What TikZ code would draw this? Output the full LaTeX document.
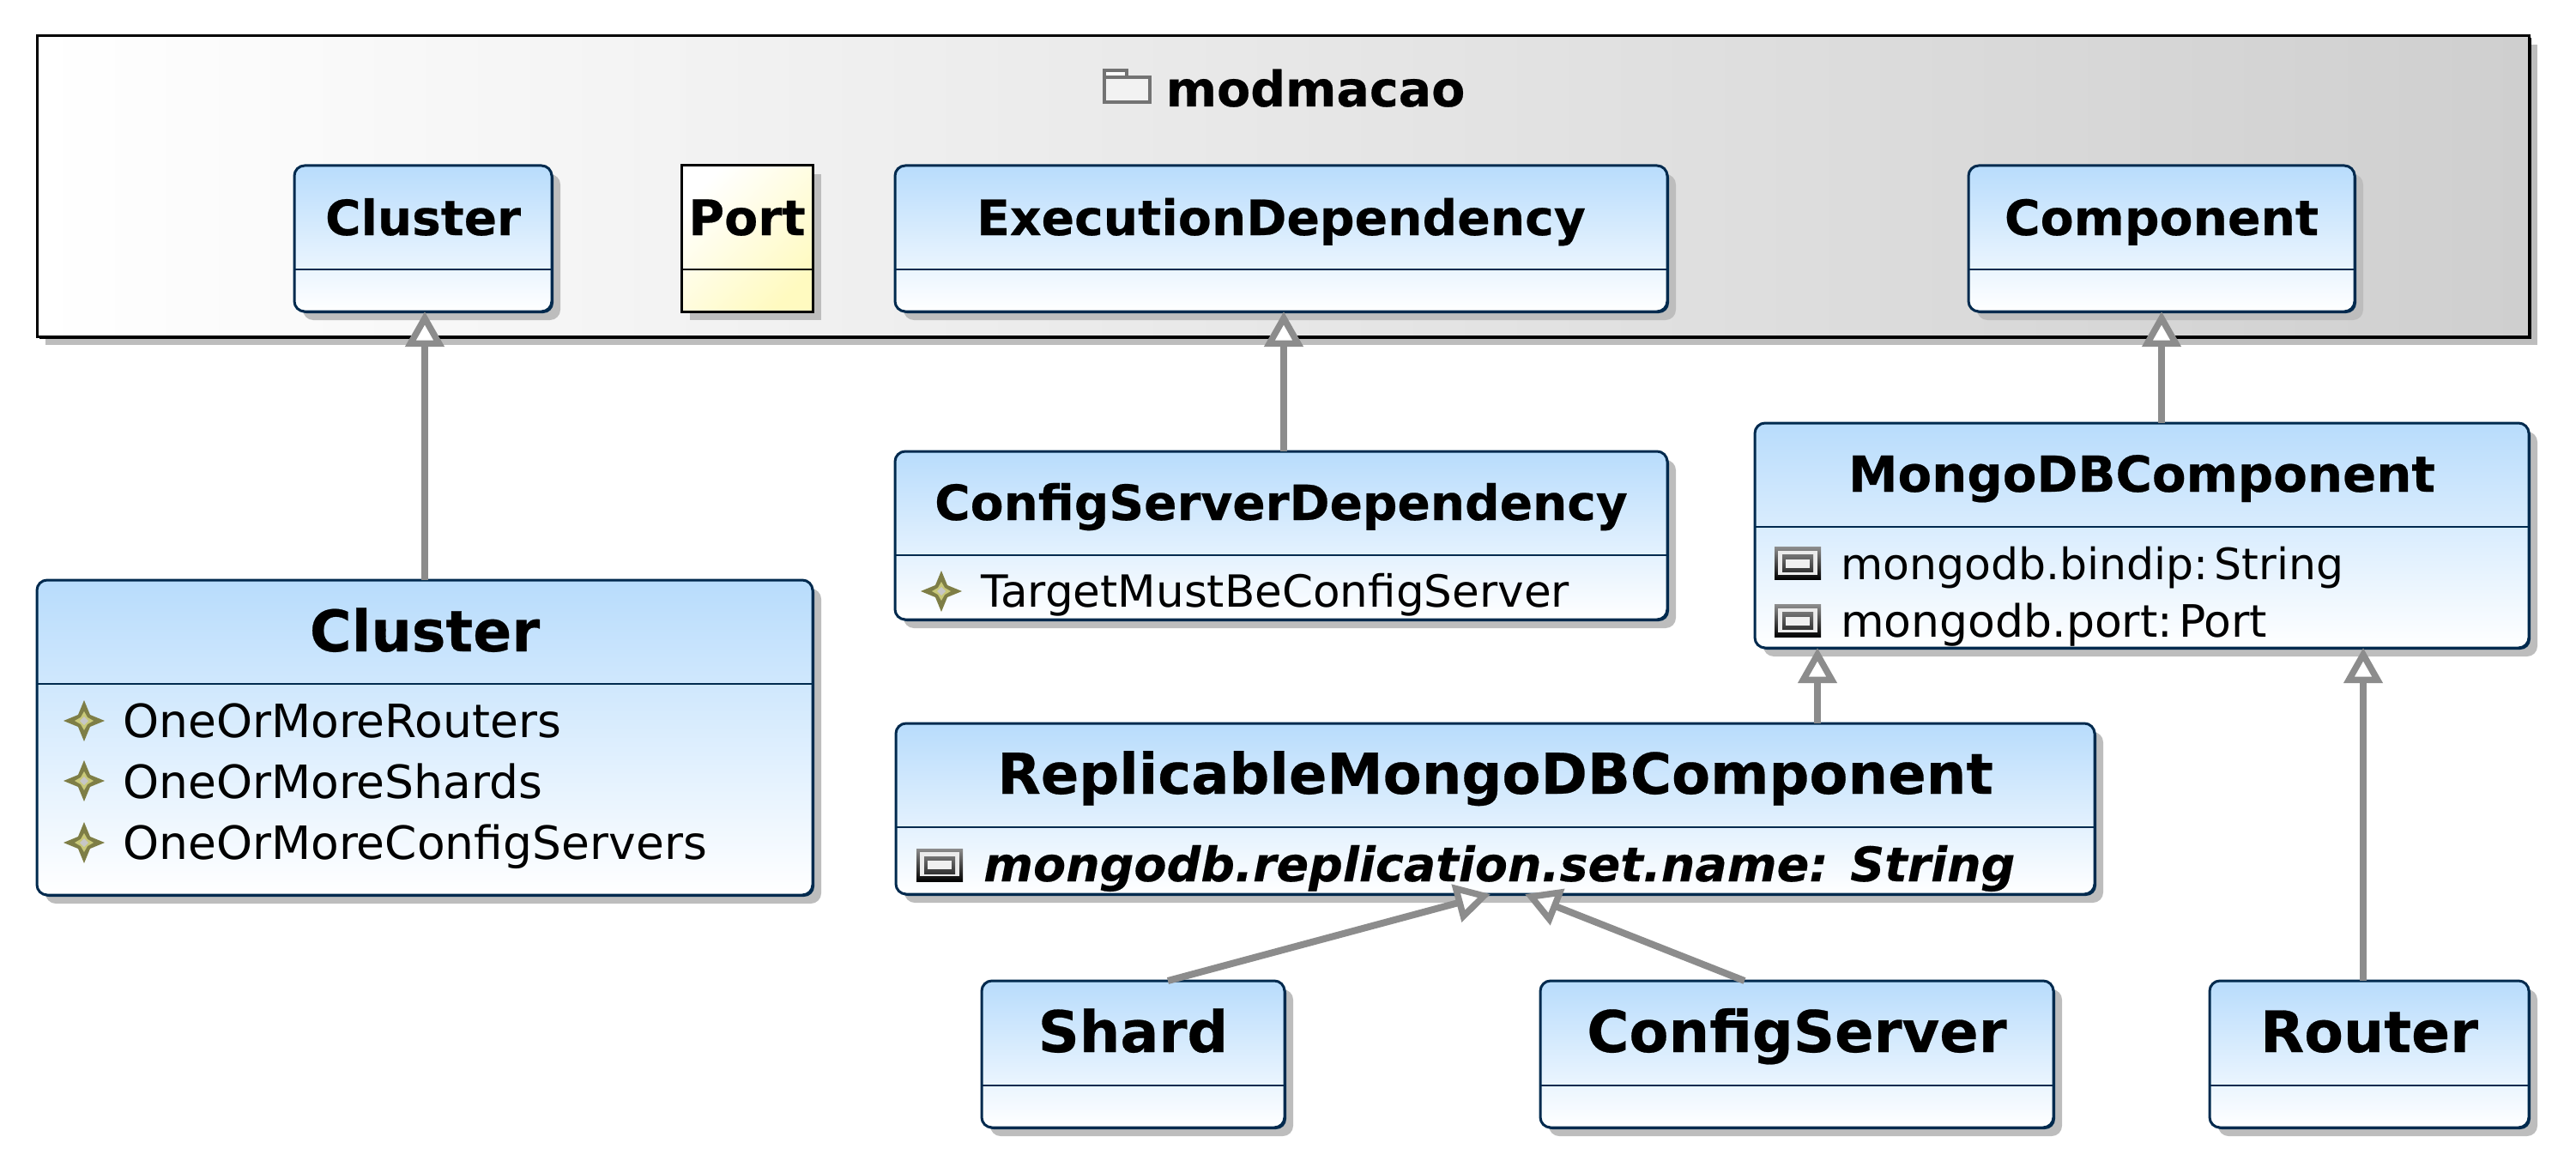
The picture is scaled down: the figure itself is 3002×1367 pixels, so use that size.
\documentclass[tikz,border=0pt]{standalone}
\usepackage{fontspec}
\setmainfont{DejaVu Sans}[BoldFeatures={FakeBold=0.4},BoldItalicFeatures={FakeBold=0.3}]
\usetikzlibrary{arrows.meta,shadows,calc}
\definecolor{navy}{HTML}{002A4E}
\definecolor{topblue}{HTML}{B8DCFC}
\definecolor{shadowgrey}{HTML}{BDBDBD}
\definecolor{linkgrey}{HTML}{8C8C8C}
\definecolor{portyellow}{HTML}{FFFAC0}
\definecolor{olive}{HTML}{7E7E46}
\definecolor{oliveyellow}{HTML}{C8C878}
\definecolor{pkgmid}{HTML}{ECECEC}
\definecolor{pkgend}{HTML}{CFCFCF}
\newcommand{\fs}[1]{\fontsize{#1}{#1}\selectfont}
\tikzset{
  x=1pt,y=-1pt,
  boxbase/.style={anchor=north west,inner sep=0pt,outer sep=0pt},
  classbox/.style={boxbase,draw=navy,line width=3pt,rounded corners=12pt,
    top color=topblue,bottom color=white,
    general shadow={shadow xshift=10pt,shadow yshift=-10pt,fill=shadowgrey,draw=none},
    general shadow={shadow xshift=2pt,shadow yshift=-2pt,fill=navy,draw=none}},
  portbox/.style={boxbase,draw=black,line width=3pt,
    top color=white,bottom color=portyellow,shading angle=45,
    general shadow={shadow xshift=10pt,shadow yshift=-10pt,fill=shadowgrey,draw=none},
    general shadow={shadow xshift=2pt,shadow yshift=-2pt,fill=black,draw=none}},
  pkgbox/.style={boxbase,draw=black,line width=3pt,
    left color=white,middle color=pkgmid,right color=pkgend,
    general shadow={shadow xshift=10pt,shadow yshift=-10pt,fill=shadowgrey,draw=none},
    general shadow={shadow xshift=2.5pt,shadow yshift=-2.5pt,fill=black,draw=none}},
  rule/.style={draw=navy,line width=2.5pt},
  blackrule/.style={draw=black,line width=2.5pt},
  titletext/.style={inner sep=0pt,anchor=base,text=black},
  itemtext/.style={inner sep=0pt,anchor=base west,text=black},
  gen/.style={draw=linkgrey,line width=8pt,
    -{Triangle[open,fill=white,length=41pt,width=44pt,line width=7.5pt]}},
  staricon/.pic={
    \fill[olive] (0,-24) -- (7,-7) -- (24,0) -- (7,7) -- (0,24) -- (-7,7) -- (-24,0) -- (-7,-7) -- cycle;
    \fill[oliveyellow] (0,-11) -- (4,-4) -- (11,0) -- (4,4) -- (0,11) -- (-4,4) -- (-11,0) -- (-4,-4) -- cycle;
    \fill[black!22] (0,-5) -- (5,0) -- (0,5) -- (-5,0) -- cycle;
  },
  attricon/.pic={
    \shade[top color=black!45,bottom color=black] (-27,-19) rectangle (27,19);
    \fill[white!92!black] (-23,-15) rectangle (23,13);
    \shade[top color=black!55,bottom color=black!80] (-18,-10) rectangle (18,10);
    \fill[black!6] (-14,-5) rectangle (14,5);
  },
}
\begin{document}
\begin{tikzpicture}
\useasboundingbox (0,0) rectangle (3002,1367);
% package
\node[pkgbox,minimum width=2904pt,minimum height=350pt] (pkg) at (43,42) {};
\draw[draw=black!55,line width=4pt,fill=white] (1287,90) -- (1287,82) -- (1313,82) -- (1313,90) -- cycle;
\draw[draw=black!55,line width=4pt,fill=black!5] (1287,90) rectangle (1340,119);
\node[titletext,font=\bfseries\fs{57}] (pkgT) at (1533,124) {modmacao};
% package content
\node[classbox,minimum width=300pt,minimum height=170pt] (cluster) at (343,193) {};
\draw[rule] (cluster.west |- 0,314) -- (cluster.east |- 0,314);
\node[titletext,font=\bfseries\fs{56.5}] (clusterT) at (cluster.center |- 0,274) {Cluster};

\node[portbox,minimum width=153pt,minimum height=170pt] (port) at (794,193) {};
\draw[blackrule] (port.west |- 0,314) -- (port.east |- 0,314);
\node[titletext,font=\bfseries\fs{57}] (portT) at (port.center |- 0,274) {Port};

\node[classbox,minimum width=900pt,minimum height=170pt] (exec) at (1043,193) {};
\draw[rule] (exec.west |- 0,314) -- (exec.east |- 0,314);
\node[titletext,font=\bfseries\fs{56.8}] (execT) at (exec.center |- 0,274) {ExecutionDependency};

\node[classbox,minimum width=450pt,minimum height=170pt] (comp) at (2294,193) {};
\draw[rule] (comp.west |- 0,314) -- (comp.east |- 0,314);
\node[titletext,font=\bfseries\fs{56.8}] (compT) at (comp.center |- 0,274) {Component};

% big cluster
\node[classbox,minimum width=904pt,minimum height=367pt] (bigcluster) at (43,676) {};
\draw[rule] (bigcluster.west |- 0,797) -- (bigcluster.east |- 0,797);
\node[titletext,font=\bfseries\fs{66.5}] (bigclusterT) at (bigcluster.center |- 0,759) {Cluster};
\pic at (98,840) {staricon};
\node[itemtext,font=\fs{53.5}] (i1) at (143,859) {OneOrMoreRouters};
\pic at (98,910) {staricon};
\node[itemtext,font=\fs{53.5}] (i2) at (143,930) {OneOrMoreShards};
\pic at (98,982) {staricon};
\node[itemtext,font=\fs{53.5}] (i3) at (143,1001) {OneOrMoreConfigServers};

% config server dependency
\node[classbox,minimum width=900pt,minimum height=196pt] (csd) at (1043,526) {};
\draw[rule] (csd.west |- 0,647) -- (csd.east |- 0,647);
\node[titletext,font=\bfseries\fs{56.6}] (csdT) at (csd.center |- 0,606) {ConfigServerDependency};
\pic at (1097,689) {staricon};
\node[itemtext,font=\fs{51.6}] (i4) at (1143,707) {TargetMustBeConfigServer};

% mongodb component
\node[classbox,minimum width=902pt,minimum height=262pt] (mongo) at (2045,493) {};
\draw[rule] (mongo.west |- 0,614) -- (mongo.east |- 0,614);
\node[titletext,font=\bfseries\fs{57.8}] (mongoT) at (mongo.center |- 0,573) {MongoDBComponent};
\pic at (2095,656.5) {attricon};
\node[itemtext,font=\fs{50.5}] (i5) at (2145,675) {mongodb.bindip:\hspace*{7pt}String};
\pic at (2095,723.5) {attricon};
\node[itemtext,font=\fs{52}] (i6) at (2145,742) {mongodb.port:\hspace*{7pt}Port};

% replicable
\node[classbox,minimum width=1397pt,minimum height=199pt] (repl) at (1044,843) {};
\draw[rule] (repl.west |- 0,964) -- (repl.east |- 0,964);
\node[titletext,font=\bfseries\fs{65.6}] (replT) at (repl.center |- 0,925) {ReplicableMongoDBComponent};
\pic at (1095,1008) {attricon};
\node[itemtext,font=\bfseries\itshape\fs{55.5}] (i7) at (1146,1027) {mongodb.replication.set.name: String};

% leaves
\node[classbox,minimum width=353pt,minimum height=171pt] (shard) at (1144,1143) {};
\draw[rule] (shard.west |- 0,1265) -- (shard.east |- 0,1265);
\node[titletext,font=\bfseries\fs{66.8}] (shardT) at (shard.center |- 0,1226) {Shard};

\node[classbox,minimum width=598pt,minimum height=171pt] (cfg) at (1795,1143) {};
\draw[rule] (cfg.west |- 0,1265) -- (cfg.east |- 0,1265);
\node[titletext,font=\bfseries\fs{67}] (cfgT) at (cfg.center |- 0,1226) {ConfigServer};

\node[classbox,minimum width=372pt,minimum height=171pt] (router) at (2575,1143) {};
\draw[rule] (router.west |- 0,1265) -- (router.east |- 0,1265);
\node[titletext,font=\bfseries\fs{66.5}] (routerT) at (router.center |- 0,1226) {Router};

% connectors
\draw[gen] (bigcluster.north) -- (bigcluster.north |- cluster.south);
\draw[gen] ([xshift=3pt]exec.south |- csd.north) -- ([xshift=3pt]exec.south);
\draw[gen] (comp.south |- mongo.north) -- (comp.south);
\draw[gen] ([xshift=73pt]mongo.south west |- repl.north) -- ([xshift=73pt]mongo.south west);
\draw[gen] ([xshift=-193pt]router.north east) -- ([xshift=-193pt]mongo.south east);
\draw[gen] ([xshift=217pt]shard.north west) -- ([xshift=-704pt]repl.south east);
\draw[gen] ([xshift=238pt]cfg.north west) -- ([xshift=-664pt]repl.south east);
\end{tikzpicture}
\end{document}
